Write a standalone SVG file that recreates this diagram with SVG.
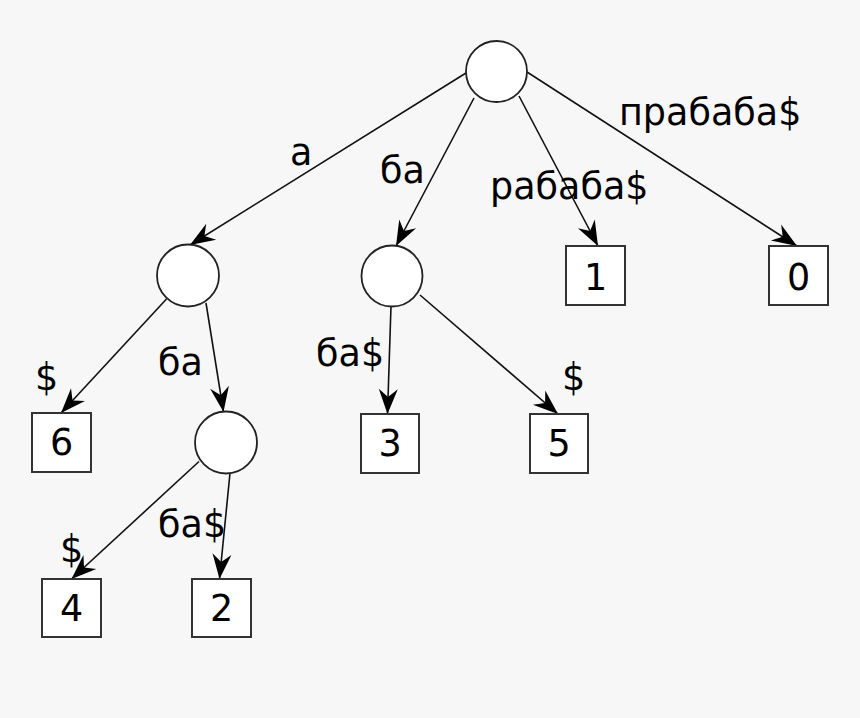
<svg xmlns="http://www.w3.org/2000/svg" width="860" height="718" viewBox="0 0 860 718">
<style>
.c{fill:#fff;stroke:#222;stroke-width:1.8}
.b{fill:#fff;stroke:#333;stroke-width:2}
.e{stroke:#111;stroke-width:1.6;fill:none;marker-end:url(#arr)}
text{font-family:"DejaVu Sans",sans-serif;font-size:36.5px;fill:#000}
.n{text-anchor:middle}
</style>
<defs>
<marker id="arr" markerUnits="userSpaceOnUse" viewBox="-26 -11 28 22" refX="0" refY="0" markerWidth="28" markerHeight="22" orient="auto">
<path d="M0,0 L-25,-9.5 L-17,0 L-25,9.5 Z" fill="#000"/>
</marker>
</defs>
<rect width="860" height="718" fill="#f7f7f7"/>
<g id="connectors">
<line class="e" x1="466" y1="73" x2="190" y2="245"/>
<line class="e" x1="474" y1="98" x2="396" y2="246"/>
<line class="e" x1="519" y1="96" x2="598" y2="246"/>
<line class="e" x1="527" y1="72" x2="797" y2="246"/>
<line class="e" x1="166.5" y1="299" x2="61" y2="413"/>
<line class="e" x1="206" y1="303" x2="223.5" y2="412"/>
<line class="e" x1="391" y1="306" x2="387.5" y2="414"/>
<line class="e" x1="420" y1="295" x2="558" y2="414"/>
<line class="e" x1="199" y1="461.5" x2="71.5" y2="579"/>
<line class="e" x1="230" y1="473" x2="219.5" y2="579"/>
</g>
<g id="labels">
<text x="290" y="165">а</text>
<text x="380" y="183">ба</text>
<text x="490" y="199">рабаба$</text>
<text x="619" y="125">прабаба$</text>
<text x="35" y="390">$</text>
<text x="158" y="375">ба</text>
<text x="316" y="366">ба$</text>
<text x="562" y="390">$</text>
<text x="60" y="562">$</text>
<text x="158" y="537">ба$</text>
</g>
<g id="root"><circle class="c" cx="496.5" cy="71.5" r="30.5"/></g>
<g id="node-a"><circle class="c" cx="188" cy="275.5" r="31"/></g>
<g id="node-ba"><circle class="c" cx="392" cy="276" r="30.5"/></g>
<g id="node-aba"><circle class="c" cx="226" cy="442.5" r="31"/></g>
<g id="leaf-1"><rect class="b" x="566" y="246" width="59" height="59"/><text class="n" x="595.5" y="289.5">1</text></g>
<g id="leaf-0"><rect class="b" x="769" y="246" width="59" height="59"/><text class="n" x="798.5" y="289.5">0</text></g>
<g id="leaf-6"><rect class="b" x="32" y="413" width="59" height="59"/><text class="n" x="61.5" y="455">6</text></g>
<g id="leaf-3"><rect class="b" x="361" y="414" width="58" height="59"/><text class="n" x="390" y="456">3</text></g>
<g id="leaf-5"><rect class="b" x="530" y="414" width="58" height="59"/><text class="n" x="559" y="456">5</text></g>
<g id="leaf-4"><rect class="b" x="42" y="579" width="59" height="58"/><text class="n" x="71.5" y="621">4</text></g>
<g id="leaf-2"><rect class="b" x="192" y="579" width="59" height="58"/><text class="n" x="221.5" y="621">2</text></g>
</svg>
